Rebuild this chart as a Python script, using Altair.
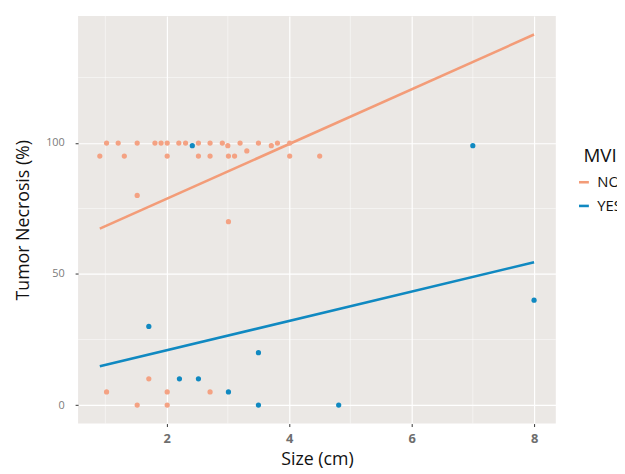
import altair as alt
import pandas as pd

# NO group (orange)
no_size = [1.02, 1.21, 1.52, 1.81, 1.91, 2.01, 2.20, 2.31, 2.52, 2.71, 2.91, 3.00, 3.20, 3.31, 3.50, 3.71, 3.81, 4.01,
           0.91, 1.31, 2.01, 2.52, 2.71, 3.01, 3.11, 4.01, 4.50,
           1.52, 3.01,
           1.71, 1.02, 2.01, 2.71, 1.52, 2.01]
no_necr = [100, 100, 100, 100, 100, 100, 100, 100, 100, 100, 100, 99, 100, 97, 100, 99, 100, 100,
           95, 95, 95, 95, 95, 95, 95, 95, 95,
           80, 70,
           10, 5, 5, 5, 0, 0]
# YES group (blue)
yes_size = [2.42, 7.0, 8.0, 1.71, 3.5, 2.21, 2.52, 3.01, 3.5, 4.81]
yes_necr = [99, 99, 40, 30, 20, 10, 10, 5, 0, 0]

# fitted lines (endpoints)
line_x = [0.91, 8.0]
no_fit = [67.3, 141.4]
yes_fit = [14.8, 54.5]

minor_x = [1, 3, 5, 7]
minor_y = [25, 75, 125]

groups = ["NO", "YES"]
colors_line = ["#F39C78", "#1089C1"]
colors_pt = ["#F4A283", "#1089C1"]

pts = pd.DataFrame({
    "size": no_size + yes_size,
    "necr": no_necr + yes_necr,
    "MVI": ["NO"] * len(no_size) + ["YES"] * len(yes_size),
})
lines = pd.DataFrame({
    "size": line_x + line_x,
    "necr": no_fit + yes_fit,
    "MVI": ["NO", "NO", "YES", "YES"],
})

xs = alt.Scale(domain=[0.555, 8.355], nice=False, zero=False)
ys = alt.Scale(domain=[-7.07, 148.5], nice=False, zero=False)

font = "Open Sans"

vgrid = alt.Chart(pd.DataFrame({"v": minor_x})).mark_rule(color="white", strokeWidth=0.6, opacity=0.8).encode(
    x=alt.X("v:Q", scale=xs))
hgrid = alt.Chart(pd.DataFrame({"v": minor_y})).mark_rule(color="white", strokeWidth=0.6, opacity=0.8).encode(
    y=alt.Y("v:Q", scale=ys))

points = alt.Chart(pts).mark_circle(size=28, opacity=1).encode(
    x=alt.X("size:Q", scale=xs,
            axis=alt.Axis(values=[2, 4, 6, 8], format="d", title="Size (cm)", grid=True, gridColor="white",
                          gridWidth=1.2, domain=False, tickColor="#333333", tickSize=3, labelColor="#6E6E6E",
                          labelFontSize=13, labelFontWeight="bold", labelPadding=6, titleFontSize=18,
                          titleFontWeight="normal", titleColor="#111111", titlePadding=5,
                          labelFont=font, titleFont=font)),
    y=alt.Y("necr:Q", scale=ys,
            axis=alt.Axis(values=[0, 50, 100], format="d", title="Tumor Necrosis (%)", grid=True,
                          gridColor="white", gridWidth=1.2, domain=False, tickColor="#333333", tickSize=3,
                          labelColor="#7A7A7A", labelFontSize=11, labelPadding=11, titleFontSize=18,
                          titleFontWeight="normal", titleColor="#111111", titlePadding=13,
                          labelFont=font, titleFont=font)),
    fill=alt.Fill("MVI:N", scale=alt.Scale(domain=groups, range=colors_pt), legend=None),
)

fit = alt.Chart(lines).mark_line(strokeWidth=2.6).encode(
    x=alt.X("size:Q", scale=xs),
    y=alt.Y("necr:Q", scale=ys),
    color=alt.Color("MVI:N", scale=alt.Scale(domain=groups, range=colors_line),
                    legend=alt.Legend(orient="none", legendX=512, legendY=133, title="MVI",
                                      titleFontSize=19, titleFontWeight="normal", titleColor="#111111",
                                      titleFont=font, labelFont=font, labelFontSize=15, labelColor="#111111",
                                      symbolType="stroke", symbolSize=100, symbolStrokeWidth=2.6,
                                      symbolOffset=-7, titlePadding=9, rowPadding=8, labelOffset=6)),
)

chart = alt.layer(vgrid, hgrid, fit, points).properties(
    width=484, height=413,
    background="white",
    autosize=alt.AutoSizeParams(type="none"),
    padding={"left": 71, "top": 5, "right": 62, "bottom": 44},
).configure_view(fill="#EBE8E5", stroke=None)

chart.save("out.html", embed_options={"renderer": "svg", "actions": False})
